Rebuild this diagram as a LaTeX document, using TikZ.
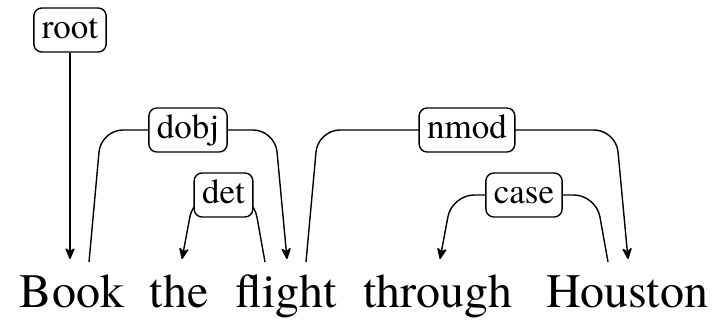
\documentclass[tikz,border=0pt]{standalone}
\usepackage{fontspec}
\newfontfamily\timesfont{texgyretermes-regular.otf}[Ligatures=Common]
\usetikzlibrary{arrows.meta}
\begin{document}
\begin{tikzpicture}[x=1pt,y=-1pt,
  word/.style={anchor=base,inner sep=0pt,font=\timesfont\fontsize{48}{56}\selectfont},
  lab/.style={draw,line width=1.4pt,rounded corners=8pt,fill=white,
    font=\timesfont\fontsize{35}{40}\selectfont,inner xsep=8pt,inner ysep=6pt,
    text height=24pt,text depth=8pt},
  dep/.style={line width=1.4pt,rounded corners=22pt,
    -{Stealth[length=13pt,width=11pt,inset=4pt,round]}}]
\useasboundingbox (0,0) rectangle (719,321);
% words
\node[word] (book) at (72,307) {Book};
\node[word] (the) at (179,307) {the};
\node[word] (flight) at (286,307) {flight};
\node[word] (through) at (438,307) {through};
\node[word] (houston) at (627,307) {Houston};
% root
\node[lab] (lroot) at (70,30) {root};
\draw[dep,rounded corners=0pt] (lroot.south) -- ([xshift=-2pt,yshift=48pt]book.base);
% dobj: Book -> flight
\draw[dep] ([xshift=17pt,yshift=45pt]book.base) -- ++(12,-132)
  -- ([xshift=-11pt,yshift=177pt]flight.base) node[lab,midway] (ldobj) {dobj}
  -- ([xshift=1pt,yshift=48pt]flight.base);
% det: flight -> the
\draw[dep] ([xshift=-21pt,yshift=45pt]flight.base) -- ++(-12,-67)
  -- ([xshift=15pt,yshift=112pt]the.base) node[lab,midway] (ldet) {det}
  -- ([xshift=3pt,yshift=48pt]the.base);
% nmod: flight -> Houston
\draw[dep] ([xshift=20pt,yshift=45pt]flight.base) -- ++(12,-132)
  -- ([xshift=-11pt,yshift=177pt]houston.base) node[lab,midway] (lnmod) {nmod}
  -- ([xshift=1pt,yshift=48pt]houston.base);
% case: Houston -> through
\draw[dep] ([xshift=-19pt,yshift=45pt]houston.base) -- ++(-12,-67)
  -- ([xshift=14pt,yshift=112pt]through.base) node[lab,midway] (lcase) {case}
  -- ([xshift=2pt,yshift=48pt]through.base);
\end{tikzpicture}
\end{document}
